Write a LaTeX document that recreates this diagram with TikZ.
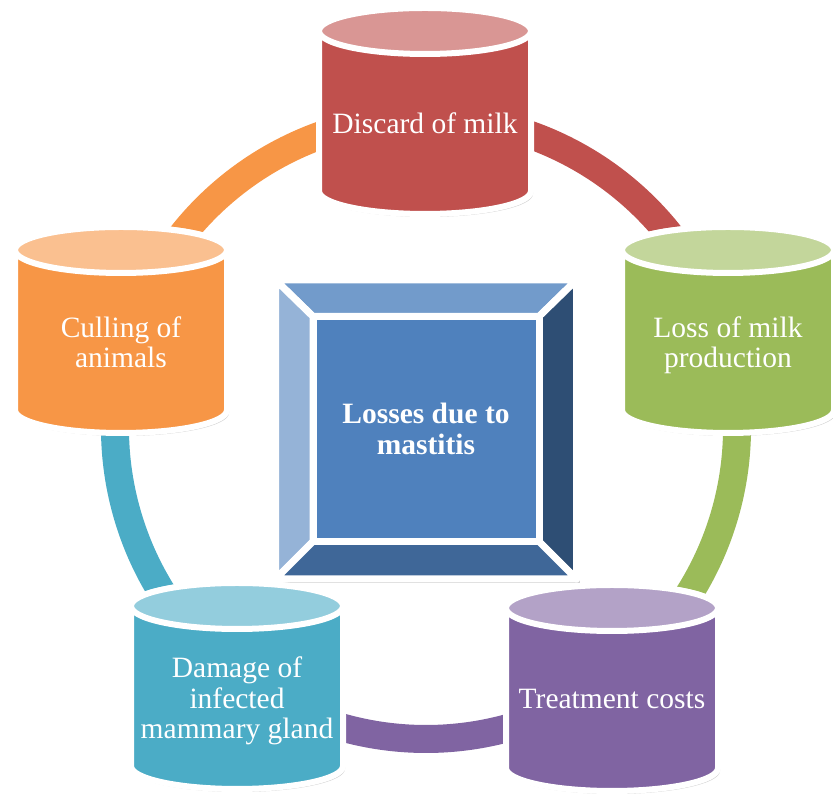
\documentclass[tikz,border=0pt]{standalone}
\usepackage{fontspec}
\setmainfont{Liberation Serif}
\usetikzlibrary{calc}

\definecolor{discardcol}{HTML}{C0504D}
\definecolor{discardtop}{HTML}{D99694}
\definecolor{lossmilkcol}{HTML}{9BBB59}
\definecolor{lossmilktop}{HTML}{C3D69B}
\definecolor{treatcol}{HTML}{8064A2}
\definecolor{treattop}{HTML}{B3A2C7}
\definecolor{damagecol}{HTML}{4BACC6}
\definecolor{damagetop}{HTML}{93CDDD}
\definecolor{cullingcol}{HTML}{F79646}
\definecolor{cullingtop}{HTML}{FAC090}
\definecolor{hubmid}{RGB}{79,129,189}
\definecolor{hubtop}{RGB}{114,155,203}
\definecolor{hubleft}{RGB}{149,179,215}
\definecolor{hubright}{RGB}{46,78,116}
\definecolor{hubbottom}{RGB}{63,103,152}

\tikzset{
  drumline/.style={draw=white, line width=6pt, line join=round},
  facet/.style={draw=white, line width=7pt, line join=round},
  ring/.style={line width=28pt, line cap=butt},
  lbl/.style={text=white, align=center, font=\fontsize{29.5}{30.5}\selectfont},
}
% drum: (centre x, top centre y) body colour, top colour
\def\drum(#1,#2)#3#4{%
  \fill[black, opacity=.18] ({#1-104},{#2-3}) -- ({#1+108},{#2-3}) -- ({#1+108},{#2-163}) arc (0:-180:106 and 23) -- cycle;
  \draw[drumline, fill=#3] ({#1-106},#2) arc (180:0:106 and 23) -- ({#1+106},{#2-160}) arc (0:-180:106 and 23) -- cycle;
  \draw[drumline, fill=#4] (#1,#2) ellipse (106 and 23);
}

\begin{document}
\begin{tikzpicture}[x=1pt, y=1pt]
		%%%%% START %%%%%
		\useasboundingbox (0,0) rectangle (833,799);
		\coordinate (o) at (426,371);
		
		% ring
		\draw[ring, draw=discardcol] ($(o)+(90:311)$) arc (90:18:311);
		\draw[ring, draw=lossmilkcol] ($(o)+(18:311)$) arc (18:-54:311);
		\draw[ring, draw=treatcol] ($(o)+(-54:311)$) arc (-54:-126:311);
		\draw[ring, draw=damagecol] ($(o)+(-126:311)$) arc (-126:-198:311);
		\draw[ring, draw=cullingcol] ($(o)+(162:311)$) arc (162:90:311);
		
		% centre box
		\fill[black, opacity=.18] (278,216) rectangle (579.5,516);
		\draw[facet, fill=hubtop] (275.5,519) -- (576.5,519) -- (539,482.5) -- (313,482.5) -- cycle;
		\draw[facet, fill=hubleft] (275.5,519) -- (313,482.5) -- (313,257.5) -- (275.5,220) -- cycle;
		\draw[facet, fill=hubright] (576.5,519) -- (576.5,220) -- (539,257.5) -- (539,482.5) -- cycle;
		\draw[facet, fill=hubbottom] (275.5,220) -- (313,257.5) -- (539,257.5) -- (576.5,220) -- cycle;
		\draw[facet, fill=hubmid] (313,257.5) rectangle (539,482.5);
		\node[lbl, font=\fontsize{29.5}{31}\selectfont\bfseries] (hub) at (426,370) {Losses due to\\mastitis};
		
		% drums
		\drum(425,768){discardcol}{discardtop}
		\node[lbl] (discard) at (425,676) {Discard of milk};
		
		\drum(728,549){lossmilkcol}{lossmilktop}
		\node[lbl] (lossmilk) at (728,453.5) {Loss of milk\\production};
		
		\drum(612,191){treatcol}{treattop}
		\node[lbl] (treat) at (612,100) {Treatment costs};
		
		\drum(237,193){damagecol}{damagetop}
		\node[lbl] (damage) at (237,98) {Damage of\\infected\\mammary gland};
		
		\drum(121,549){cullingcol}{cullingtop}
		\node[lbl] (culling) at (121,456.5) {Culling of\\animals};
		
		%%%%% END %%%%%
\end{tikzpicture}
\end{document}
